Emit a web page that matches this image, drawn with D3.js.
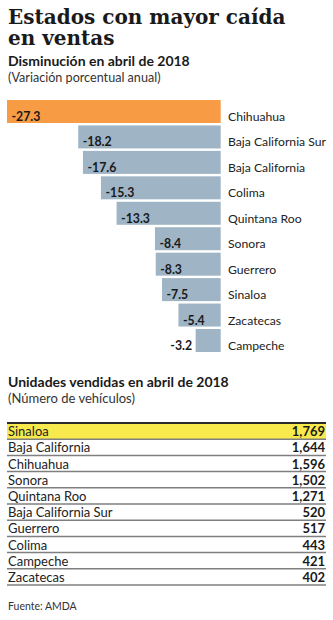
<!DOCTYPE html>
<html>
<head>
<meta charset="utf-8">
<script src="https://cdn.jsdelivr.net/npm/d3@7"></script>
<style>
  html, body { margin: 0; padding: 0; background: #fff; }
  svg { display: block; }
  .sans { font-family: Lato, "Open Sans", sans-serif; }
</style>
</head>
<body>
<div id="chart"></div>
<script>
// Variación porcentual anual de ventas, abril de 2018
const states = ["Chihuahua", "Baja California Sur", "Baja California", "Colima", "Quintana Roo",
                "Sonora", "Guerrero", "Sinaloa", "Zacatecas", "Campeche"];
const change = [-27.3, -18.2, -17.6, -15.3, -13.3, -8.4, -8.3, -7.5, -5.4, -3.2];

// Unidades vendidas en abril de 2018
const tableStates = ["Sinaloa", "Baja California", "Chihuahua", "Sonora", "Quintana Roo",
                     "Baja California Sur", "Guerrero", "Colima", "Campeche", "Zacatecas"];
const units = [1769, 1644, 1596, 1502, 1271, 520, 517, 443, 421, 402];

const W = 333, H = 620;
const svg = d3.select("#chart").append("svg").attr("width", W).attr("height", H);

// Titles
const title = svg.append("text")
  .attr("font-family", "'DejaVu Serif', serif").attr("font-weight", "bold")
  .attr("font-size", 20).attr("fill", "#1a1a1a");
title.append("tspan").attr("x", 8).attr("y", 24).text("Estados con mayor caída");
title.append("tspan").attr("x", 8).attr("y", 45).text("en ventas");

svg.append("text").attr("class", "sans").attr("x", 8).attr("y", 66)
  .attr("font-weight", "bold").attr("font-size", 14).attr("fill", "#1a1a1a")
  .text("Disminución en abril de 2018");
svg.append("text").attr("class", "sans").attr("x", 8).attr("y", 82)
  .attr("font-size", 12.6).attr("fill", "#333").text("(Variación porcentual anual)");

// Bars
const x = d3.scaleLinear().domain([d3.min(change), 0]).range([7, 220.7]);
const y = d3.scaleBand().domain(states).range([100, 352]).paddingInner(0.096).paddingOuter(0);

const rows = svg.append("g").selectAll("g").data(states.map((s, i) => ({ s, v: change[i], i })))
  .join("g");

rows.append("rect")
  .attr("x", d => x(d.v)).attr("y", d => y(d.s))
  .attr("width", d => x(0) - x(d.v)).attr("height", y.bandwidth())
  .attr("fill", d => d.i === 0 ? "#F79C45" : "#9FB5C6");

rows.append("text").attr("class", "sans")
  .attr("font-weight", "bold").attr("font-size", 12.3).attr("fill", "#1a1a1a")
  .attr("y", d => y(d.s) + y.bandwidth() - 2)
  .each(function (d) {
    const inside = (x(0) - x(d.v)) > 36;
    d3.select(this)
      .attr("x", inside ? x(d.v) + 4.5 : x(d.v) - 3.5)
      .attr("text-anchor", inside ? "start" : "end");
  })
  .text(d => d.v.toFixed(1));

rows.append("text").attr("class", "sans")
  .attr("x", 228).attr("y", d => y(d.s) + y.bandwidth() - 2)
  .attr("font-size", 12.2).attr("fill", "#222")
  .text(d => d.s);

// Table
svg.append("text").attr("class", "sans").attr("x", 8).attr("y", 387)
  .attr("font-weight", "bold").attr("font-size", 14).attr("fill", "#1a1a1a")
  .text("Unidades vendidas en abril de 2018");
svg.append("text").attr("class", "sans").attr("x", 8).attr("y", 403)
  .attr("font-size", 13).attr("fill", "#333").text("(Número de vehículos)");

const ty = d3.scaleBand().domain(tableStates).range([423, 585]);
const fmt = d3.format(",");

const trows = svg.append("g").selectAll("g").data(tableStates.map((s, i) => ({ s, v: units[i], i })))
  .join("g");

trows.filter(d => d.i === 0).append("rect")
  .attr("x", 7).attr("y", d => ty(d.s)).attr("width", 319).attr("height", ty.bandwidth())
  .attr("fill", "#F8EA4C");

trows.append("line")
  .attr("x1", 7).attr("x2", 326)
  .attr("y1", d => ty(d.s) + ty.bandwidth()).attr("y2", d => ty(d.s) + ty.bandwidth())
  .attr("stroke", "#7f7f7f").attr("stroke-width", 1.5);

trows.append("text").attr("class", "sans")
  .attr("x", 8).attr("y", d => ty(d.s) + ty.bandwidth() - 3)
  .attr("font-size", 13).attr("fill", "#222").text(d => d.s);

trows.append("text").attr("class", "sans")
  .attr("x", 325).attr("y", d => ty(d.s) + ty.bandwidth() - 3)
  .attr("text-anchor", "end").attr("font-weight", "bold")
  .attr("font-size", 13).attr("fill", "#1a1a1a").text(d => fmt(d.v));

svg.append("line").attr("x1", 7).attr("x2", 326).attr("y1", 423).attr("y2", 423)
  .attr("stroke", "#2a2a2a").attr("stroke-width", 2);

svg.append("text").attr("class", "sans").attr("x", 8).attr("y", 610)
  .attr("font-size", 10.5).attr("fill", "#333").text("Fuente: AMDA");
</script>
</body>
</html>
